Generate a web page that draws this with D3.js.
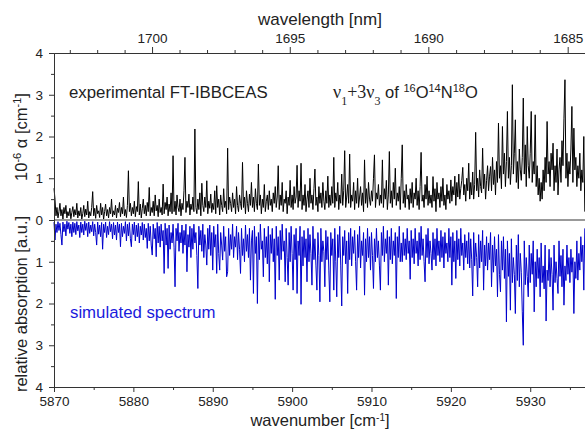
<!DOCTYPE html>
<html>
<head>
<meta charset="utf-8">
<script src="https://cdn.jsdelivr.net/npm/d3@7"></script>
<style>
  body { margin: 0; background: #fff; }
  svg text { font-family: 'Liberation Sans', Arial, sans-serif; fill: #222; }
</style>
</head>
<body>
<div id="chart"></div>
<script>
// sampling grid of both spectra (cm-1)
const wnStart = 5870
const wnStep = 0.125

// experimental FT-IBBCEAS absorption, 10^-6 cm-1
const experimental = [
  0.76, 0.5, 0.1, 0.3, 0.05, 0.2, 0.4, 0.1, 0.25, 0.02, 0.3, 0.15, 0.35, 0.05, 0.2, 0.1, 0.28, 0.03, 0.18, 0.32,
  0.08, 0.25, 0.12, 0.4, 0.05, 0.22, 0.1, 0.3, 0.02, 0.15, 0.35, 0.08, 0.26, 0.12, 0.45, 0.05, 0.2, 0.1, 0.3, 0.68,
  0.1, 0.28, 0.04, 0.35, 0.15, 0.22, 0.06, 0.4, 0.12, 0.3, 0.02, 0.2, 0.38, 0.1, 0.25, 0.05, 0.3, 0.15, 0.5, 0.08,
  0.22, 0.12, 0.35, 0.05, 0.28, 0.18, 0.42, 0.08, 0.3, 0.15, 0.55, 0.1, 0.25, 0.06, 0.35, 1.18, 0.2, 0.4, 0.1, 0.3,
  0.15, 0.45, 0.08, 0.32, 0.2, 0.92, 0.12, 0.38, 0.05, 0.28, 0.5, 0.15, 0.35, 0.1, 0.42, 0.2, 0.78, 0.1, 0.3, 0.18,
  0.45, 0.1, 0.6, 0.22, 0.35, 0.08, 0.5, 0.18, 0.3, 0.12, 0.86, 0.15, 0.42, 0.25, 0.55, 0.1, 0.38, 0.2, 0.65, 0.15,
  1.54, 0.2, 0.45, 0.12, 0.6, 0.3, 0.2, 0.5, 0.1, 0.4, 0.25, 0.7, 1.5, 0.18, 0.45, 0.3, 0.62, 0.12, 0.38, 0.25,
  0.55, 0.2, 2.18, 0.3, 0.15, 0.5, 0.25, 0.65, 0.1, 0.88, 0.35, 0.2, 0.55, 0.3, 0.94, 0.15, 0.45, 0.28, 0.62, 0.18,
  0.4, 0.25, 0.7, 0.15, 0.82, 0.3, 0.5, 0.12, 0.6, 0.35, 0.2, 0.75, 0.3, 0.45, 0.15, 1.72, 0.25, 0.55, 0.4, 0.2,
  0.65, 0.3, 0.5, 0.15, 0.8, 0.35, 0.2, 0.6, 0.4, 0.25, 1.38, 0.3, 0.55, 0.15, 0.7, 0.4, 0.2, 0.62, 0.35, 0.9,
  0.3, 0.55, 0.2, 0.75, 0.4, 0.25, 1.34, 0.35, 0.6, 0.15, 0.5, 0.3, 0.85, 0.2, 0.45, 0.6, 0.25, 0.7, 0.35, 0.5,
  0.2, 0.65, 0.4, 0.8, 0.3, 0.55, 1.3, 0.25, 0.6, 0.35, 0.9, 0.2, 0.5, 0.4, 0.7, 0.15, 0.55, 0.35, 0.95, 0.3,
  0.6, 0.25, 0.8, 0.4, 0.55, 1.31, 0.3, 0.7, 0.45, 1.36, 0.25, 0.6, 0.35, 0.85, 0.2, 0.5, 0.7, 0.3, 1.0, 0.4,
  0.6, 0.25, 0.75, 1.22, 0.35, 0.55, 0.2, 0.8, 0.4, 0.65, 0.3, 0.9, 0.45, 0.25, 0.7, 0.4, 1.05, 0.3, 0.6, 0.35,
  0.8, 0.4, 1.5, 0.3, 0.65, 0.45, 0.9, 0.25, 0.6, 0.4, 1.1, 0.35, 0.7, 1.66, 0.3, 0.55, 0.85, 0.4, 1.58, 0.3,
  0.6, 0.45, 0.9, 0.25, 0.7, 0.4, 1.0, 0.3, 0.55, 0.8, 0.35, 0.65, 0.2, 1.44, 0.4, 0.75, 0.3, 0.9, 0.5, 0.35,
  0.7, 0.45, 1.0, 1.56, 0.3, 0.65, 0.5, 0.85, 0.35, 0.6, 0.4, 1.44, 0.3, 0.75, 0.5, 0.95, 0.25, 0.6, 1.64, 0.4,
  0.7, 0.3, 0.9, 0.5, 1.24, 0.35, 0.65, 0.45, 0.8, 0.25, 1.0, 1.8, 0.4, 0.7, 0.3, 0.85, 0.5, 0.6, 0.25, 0.75,
  0.4, 0.9, 0.3, 0.65, 0.5, 1.0, 0.35, 0.7, 0.25, 0.8, 1.62, 0.45, 0.6, 0.3, 0.85, 0.5, 1.05, 0.35, 0.7, 0.4,
  0.6, 0.3, 1.04, 0.45, 0.75, 0.2, 0.9, 0.5, 0.65, 0.3, 0.8, 0.45, 1.0, 0.35, 0.6, 0.25, 0.85, 0.5, 0.7, 0.4,
  0.96, 0.45, 0.8, 0.6, 1.05, 0.35, 0.9, 0.55, 1.1, 0.5, 0.75, 0.95, 1.26, 0.6, 0.85, 0.45, 1.0, 0.7, 1.36, 0.5,
  0.9, 0.6, 1.15, 0.5, 0.85, 2.1, 0.7, 1.0, 0.55, 1.2, 0.8, 0.65, 1.72, 0.75, 1.1, 0.5, 0.95, 1.3, 0.7, 1.05,
  1.28, 0.7, 1.5, 0.85, 1.2, 0.6, 1.4, 0.9, 2.32, 1.0, 1.3, 0.75, 2.24, 1.1, 1.6, 0.8, 1.4, 2.6, 1.0, 1.5,
  0.85, 1.3, 3.24, 1.1, 1.6, 2.4, 0.9, 1.4, 0.75, 1.7, 1.2, 0.95, 1.5, 2.92, 1.1, 1.8, 0.8, 2.24, 1.3, 1.0,
  1.6, 2.6, 0.9, 1.4, 1.1, 2.52, 0.8, 1.3, 0.6, 1.0, 0.45, 0.9, 0.5, 1.2, 0.7, 1.5, 0.9, 2.36, 1.1, 1.4,
  0.8, 1.6, 1.2, 1.84, 0.7, 1.3, 0.9, 1.7, 0.6, 1.2, 1.5, 0.9, 1.9, 1.3, 2.44, 3.36, 1.0, 1.6, 0.8, 1.4,
  1.1, 1.7, 2.72, 0.9, 2.2, 1.2, 1.5, 0.8, 1.3, 1.0, 1.6, 0.7, 1.2, 0.9, 2.0, 0.2
]

// simulated spectrum, relative absorption (drawn downwards)
const simulated = [
  0.05, 0.48, 0.1, 0.3, 0.04, 0.25, 0.08, 0.35, 0.6, 0.05, 0.28, 0.1, 0.38, 0.03, 0.22, 0.06, 0.32, 0.1, 0.4, 0.05,
  0.3, 0.08, 0.35, 0.04, 0.26, 0.12, 0.42, 0.05, 0.3, 0.1, 0.36, 0.03, 0.25, 0.08, 0.4, 0.05, 0.32, 0.12, 0.28, 0.04,
  0.38, 0.1, 0.3, 0.6, 0.05, 0.34, 0.12, 0.4, 0.06, 0.7, 0.1, 0.3, 0.05, 0.42, 0.15, 0.35, 0.04, 0.28, 0.1, 0.45,
  0.06, 0.36, 0.12, 0.48, 0.05, 0.3, 0.1, 0.64, 0.08, 0.4, 0.15, 0.32, 0.04, 0.5, 0.1, 0.38, 0.06, 0.45, 0.64, 0.1,
  0.35, 0.05, 0.5, 0.12, 0.4, 0.08, 0.55, 0.15, 0.36, 0.06, 0.48, 0.1, 0.42, 0.2, 0.68, 0.08, 0.5, 0.15, 0.6, 0.84,
  0.1, 0.45, 0.2, 0.88, 0.06, 0.55, 0.15, 0.65, 0.1, 0.5, 0.25, 1.28, 0.08, 0.6, 0.2, 1.16, 0.12, 0.7, 0.3, 0.55,
  0.1, 0.65, 1.6, 0.2, 0.5, 0.08, 0.75, 0.3, 0.55, 0.12, 0.8, 0.25, 0.6, 0.1, 1.24, 0.35, 0.65, 0.15, 0.9, 0.2,
  0.7, 0.1, 0.55, 0.3, 0.85, 1.64, 0.15, 0.6, 0.25, 0.75, 0.1, 0.9, 0.35, 0.6, 1.08, 0.2, 0.7, 0.12, 0.85, 0.3,
  1.2, 0.15, 0.65, 0.35, 1.28, 0.1, 0.8, 1.2, 0.3, 0.6, 0.96, 0.15, 0.75, 0.4, 1.36, 1.24, 0.2, 0.85, 0.35, 0.7,
  0.1, 0.9, 0.4, 0.65, 0.15, 0.95, 0.3, 0.7, 1.28, 0.2, 0.85, 0.45, 1.0, 0.12, 0.75, 0.35, 0.9, 0.2, 1.44, 0.5,
  0.25, 1.76, 0.15, 0.8, 0.4, 2.0, 0.3, 0.95, 0.1, 0.7, 0.5, 1.36, 0.2, 0.9, 0.4, 1.05, 0.15, 1.48, 0.35, 0.8,
  0.2, 1.0, 0.45, 1.9, 0.15, 0.85, 0.4, 1.44, 0.25, 0.95, 0.1, 0.75, 0.5, 1.48, 0.2, 0.9, 1.56, 0.3, 1.0, 0.15,
  0.8, 1.68, 0.35, 0.95, 0.2, 1.76, 0.5, 0.85, 0.15, 2.02, 0.4, 1.1, 0.25, 0.9, 0.45, 1.48, 0.2, 1.0, 0.35, 0.8,
  1.56, 0.15, 0.95, 0.45, 1.1, 1.68, 0.3, 0.85, 1.96, 0.2, 1.0, 0.5, 0.75, 1.6, 0.25, 0.95, 0.4, 1.2, 1.96, 0.3,
  0.85, 0.45, 1.68, 0.2, 1.0, 1.84, 0.35, 0.9, 0.15, 1.1, 2.06, 0.4, 0.85, 0.25, 1.05, 0.5, 1.76, 0.3, 0.95, 0.2,
  1.1, 0.4, 0.8, 0.25, 1.0, 1.68, 0.35, 0.9, 0.15, 1.15, 0.5, 0.85, 0.3, 1.8, 0.45, 1.0, 0.2, 0.9, 0.4, 1.2,
  0.3, 0.85, 1.64, 0.45, 1.0, 0.2, 0.9, 0.5, 1.1, 1.68, 0.3, 0.85, 0.15, 1.0, 0.45, 0.8, 0.25, 1.56, 0.4, 0.95,
  0.2, 1.05, 0.5, 0.85, 0.3, 1.88, 0.4, 0.9, 0.15, 1.0, 0.55, 1.0, 0.3, 0.85, 0.45, 0.95, 0.2, 0.8, 0.5, 1.42,
  0.25, 0.9, 0.45, 1.05, 0.2, 0.8, 0.5, 1.1, 0.3, 0.95, 0.15, 0.85, 0.45, 1.0, 1.48, 0.35, 0.9, 0.2, 1.05, 0.5,
  0.8, 1.2, 0.3, 0.95, 0.45, 1.1, 0.2, 0.85, 0.5, 1.0, 0.25, 0.9, 0.4, 1.15, 0.3, 0.8, 0.55, 1.0, 0.2, 0.9,
  0.4, 1.56, 0.3, 1.0, 0.5, 1.4, 0.25, 0.95, 0.45, 1.1, 0.2, 0.85, 0.55, 1.2, 0.35, 0.9, 0.5, 1.05, 0.3, 1.15,
  0.45, 0.95, 1.82, 0.3, 1.1, 0.55, 0.9, 1.6, 0.35, 1.15, 0.5, 1.0, 0.25, 1.68, 0.6, 1.1, 0.4, 1.2, 0.55, 0.95,
  0.3, 1.6, 0.6, 1.25, 0.4, 1.1, 0.7, 1.84, 0.35, 1.3, 1.72, 0.5, 1.2, 0.4, 1.4, 0.7, 2.44, 0.5, 1.35, 0.8,
  2.16, 0.45, 1.5, 0.9, 1.3, 2.24, 0.6, 1.45, 0.35, 1.6, 0.8, 1.25, 2.2, 3.0, 0.5, 1.55, 0.9, 1.35, 1.84, 0.6,
  1.5, 0.8, 1.3, 0.5, 2.2, 1.0, 1.6, 0.7, 1.4, 0.9, 1.84, 0.55, 1.5, 1.1, 1.65, 0.6, 2.42, 1.2, 1.45, 0.7,
  1.6, 0.9, 1.3, 2.16, 0.6, 1.5, 1.0, 1.4, 1.76, 0.5, 1.35, 0.85, 1.6, 0.7, 2.04, 1.1, 1.45, 0.6, 1.3, 0.9,
  1.5, 0.7, 1.25, 0.9, 2.24, 1.0, 1.4, 0.5, 1.44, 0.8, 1.2, 0.4, 1.0, 0.6, 1.68, 0.2
]

// axis ticks
const wavenumberTicks = [5870, 5880, 5890, 5900, 5910, 5920, 5930]
const wavenumberMinor = [5875, 5885, 5895, 5905, 5915, 5925, 5935]
const wavelengthTicks = [1700, 1695, 1690, 1685]
const wavelengthMinor = [1703, 1702, 1701, 1699, 1698, 1697, 1696, 1694, 1693, 1692, 1691, 1689, 1688, 1687, 1686, 1684]
const upperTicks = [1, 2, 3, 4]
const lowerTicks = [0, 1, 2, 3, 4]
const halfTicks = [0.5, 1.5, 2.5, 3.5]

const width = 585
const height = 429
const margin = { top: 53, right: 0, bottom: 42, left: 54 }
const zeroY = 220

const svg = d3.select('#chart').append('svg')
  .attr('width', width)
  .attr('height', height)

const x = d3.scaleLinear()
  .domain([5870, 5936.9])
  .range([margin.left, width - margin.right])

const yUp = d3.scaleLinear().domain([0, 4]).range([zeroY, margin.top])
const yDown = d3.scaleLinear().domain([0, 4]).range([zeroY, height - margin.bottom])

const wn = i => wnStart + i * wnStep

// spectra
const line = y => d3.line().x((d, i) => x(wn(i))).y(d => y(d))

svg.append('path')
  .datum(simulated)
  .attr('fill', 'none')
  .attr('stroke', '#0000cc')
  .attr('stroke-width', 1)
  .attr('d', line(yDown))

svg.append('path')
  .datum(experimental)
  .attr('fill', 'none')
  .attr('stroke', '#000')
  .attr('stroke-width', 1)
  .attr('d', line(yUp))

// zero line
svg.append('line')
  .attr('x1', x.range()[0]).attr('x2', x.range()[1])
  .attr('y1', zeroY).attr('y2', zeroY)
  .attr('stroke', '#777')
  .attr('stroke-width', 1.6)

function styleAxis (g) {
  g.selectAll('path, line').attr('stroke', '#333')
  g.selectAll('text')
    .attr('fill', '#222')
    .style('font-family', "'Liberation Sans', Arial, sans-serif")
    .style('font-size', '13.5px')
}

const fmt = d3.format('d')

// bottom axis
svg.append('g')
  .attr('transform', `translate(0,${height - margin.bottom})`)
  .call(d3.axisBottom(x).tickValues(wavenumberMinor).tickSize(3).tickSizeOuter(0).tickFormat(''))
  .call(styleAxis)
svg.append('g')
  .attr('transform', `translate(0,${height - margin.bottom})`)
  .call(d3.axisBottom(x).tickValues(wavenumberTicks).tickSize(5).tickSizeOuter(0).tickPadding(4).tickFormat(fmt))
  .call(styleAxis)

// top axis (wavelength)
svg.append('g')
  .attr('transform', `translate(0,${margin.top})`)
  .call(d3.axisTop(x).tickValues(wavelengthMinor.map(l => 1e7 / l)).tickSize(3).tickSizeOuter(0).tickFormat(''))
  .call(styleAxis)
svg.append('g')
  .attr('transform', `translate(0,${margin.top})`)
  .call(d3.axisTop(x).tickValues(wavelengthTicks.map(l => 1e7 / l)).tickSize(6).tickSizeOuter(0).tickPadding(4)
    .tickFormat(v => Math.round(1e7 / v)))
  .call(styleAxis)

// left axes
svg.append('g')
  .attr('transform', `translate(${margin.left},0)`)
  .call(d3.axisLeft(yUp).tickValues(halfTicks).tickSize(3).tickSizeOuter(0).tickFormat(''))
  .call(styleAxis)
svg.append('g')
  .attr('transform', `translate(${margin.left},0)`)
  .call(d3.axisLeft(yUp).tickValues(upperTicks).tickSize(5).tickSizeOuter(0).tickPadding(6).tickFormat(fmt))
  .call(styleAxis)
svg.append('g')
  .attr('transform', `translate(${margin.left},0)`)
  .call(d3.axisLeft(yDown).tickValues(halfTicks).tickSize(3).tickSizeOuter(0).tickFormat(''))
  .call(styleAxis)
svg.append('g')
  .attr('transform', `translate(${margin.left},0)`)
  .call(d3.axisLeft(yDown).tickValues(lowerTicks).tickSize(5).tickSizeOuter(0).tickPadding(6).tickFormat(fmt))
  .call(styleAxis)

// axis titles
const sup = (t, s, size = '11px') => t.append('tspan').attr('baseline-shift', 'super').style('font-size', size).text(s)

svg.append('text')
  .attr('x', 320).attr('y', 25)
  .attr('text-anchor', 'middle')
  .style('font-size', '17px')
  .text('wavelength [nm]')

const xt = svg.append('text')
  .attr('x', 320).attr('y', 426)
  .attr('text-anchor', 'middle')
  .style('font-size', '16.5px')
xt.append('tspan').text('wavenumber [cm')
sup(xt, '-1', '10px')
xt.append('tspan').text(']')

const yt1 = svg.append('text')
  .attr('transform', 'translate(27,137) rotate(-90)')
  .attr('text-anchor', 'middle')
  .style('font-size', '16.5px')
yt1.append('tspan').text('10')
sup(yt1, '-6')
yt1.append('tspan').text(' α [cm')
sup(yt1, '-1')
yt1.append('tspan').text(']')

svg.append('text')
  .attr('transform', 'translate(27,304) rotate(-90)')
  .attr('text-anchor', 'middle')
  .style('font-size', '16.5px')
  .text('relative absorption [a.u.]')

// annotations
svg.append('text')
  .attr('x', 69).attr('y', 98)
  .style('font-size', '16.8px')
  .text('experimental FT-IBBCEAS')

const nu = svg.append('text')
  .attr('x', 333).attr('y', 98)
  .style('font-size', '16.5px')
const serif = "'Liberation Serif', 'Times New Roman', serif"
nu.append('tspan').style('font-family', serif).style('font-size', '18px').text('ν')
nu.append('tspan').style('font-family', serif).style('font-size', '12px').attr('baseline-shift', 'sub').text('1')
nu.append('tspan').style('font-family', serif).style('font-size', '18px').text('+3ν')
nu.append('tspan').style('font-family', serif).style('font-size', '12px').attr('baseline-shift', 'sub').text('3')
nu.append('tspan').text(' of ')
sup(nu, '16')
nu.append('tspan').text('O')
sup(nu, '14')
nu.append('tspan').text('N')
sup(nu, '18')
nu.append('tspan').text('O')

svg.append('text')
  .attr('x', 70).attr('y', 318)
  .style('font-size', '16.8px')
  .style('fill', '#1a1adc')
  .text('simulated spectrum')
</script>
</body>
</html>
